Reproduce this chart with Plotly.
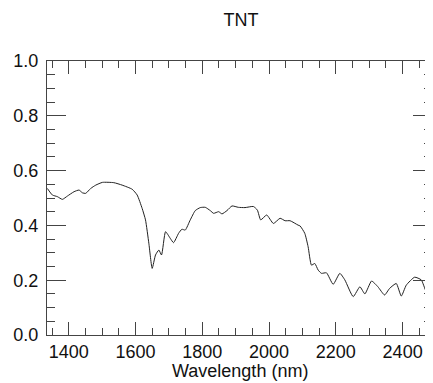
import plotly.graph_objects as go

wavelength = [1336, 1351, 1366, 1381, 1396, 1416, 1431, 1441, 1451, 1466, 1481, 1501, 1535,
              1560, 1590, 1605, 1620, 1630, 1640, 1650, 1660, 1670, 1678, 1690, 1704, 1714,
              1729, 1739, 1749, 1764, 1779, 1794, 1809, 1824, 1834, 1849, 1859, 1874, 1889,
              1908, 1928, 1953, 1965, 1975, 1993, 2013, 2033, 2048, 2063, 2087, 2093, 2107,
              2117, 2127, 2137, 2147, 2157, 2172, 2192, 2212, 2227, 2252, 2272, 2287, 2307,
              2326, 2346, 2361, 2381, 2396, 2411, 2436, 2456, 2471, 2489]
reflectance = [0.535, 0.511, 0.505, 0.495, 0.507, 0.523, 0.529, 0.519, 0.517, 0.535, 0.547,
               0.557, 0.556, 0.547, 0.532, 0.511, 0.462, 0.420, 0.335, 0.243, 0.292, 0.310,
               0.292, 0.377, 0.353, 0.337, 0.371, 0.386, 0.383, 0.420, 0.454, 0.465, 0.466,
               0.454, 0.444, 0.450, 0.442, 0.454, 0.471, 0.466, 0.465, 0.469, 0.456, 0.420,
               0.438, 0.407, 0.426, 0.417, 0.417, 0.401, 0.398, 0.371, 0.322, 0.255, 0.261,
               0.237, 0.225, 0.227, 0.185, 0.225, 0.201, 0.140, 0.176, 0.150, 0.197, 0.176,
               0.146, 0.170, 0.188, 0.142, 0.182, 0.211, 0.201, 0.158, 0.146]
title_text = "TNT"
x_title = "Wavelength (nm)"

axis_color = "#444444"
font = "Liberation Sans, Arial, sans-serif"

# The page body has an 8px margin, so the figure is drawn at (8, 8) in the window.
W, H = 425, 375
L, R, T, B = 39, 1, 53, 48
plot_h = H - T - B

fig = go.Figure(go.Scatter(x=wavelength, y=reflectance, mode="lines",
                           line=dict(color="#222222", width=1, shape="spline", smoothing=0.5),
                           hoverinfo="skip"))

fig.update_layout(
    width=W, height=H,
    margin=dict(l=L, r=R, t=T, b=B, autoexpand=False),
    paper_bgcolor="white", plot_bgcolor="white",
    showlegend=False,
    font=dict(family=font, size=18, color="#111111"),
    title=dict(text=title_text, x=233 / W, xanchor="center",
               y=1 - 12 / H, yanchor="middle", yref="container",
               font=dict(size=18, family=font, color="#111111"), automargin=False),
    annotations=[dict(text=x_title, xref="paper", yref="paper", x=0.5, y=-36 / plot_h,
                      xanchor="center", yanchor="middle", showarrow=False,
                      font=dict(size=18, family=font, color="#111111"))],
)
fig.update_xaxes(range=[1335, 2488], showgrid=False, zeroline=False, automargin=False,
                 showline=True, linecolor=axis_color, linewidth=1, mirror="ticks",
                 ticks="inside", ticklen=13, tickcolor=axis_color, tickwidth=1,
                 tick0=1400, dtick=200,
                 minor=dict(ticks="inside", ticklen=7, dtick=50, tick0=1400,
                            tickcolor=axis_color, showgrid=False),
                 tickfont=dict(size=18))
fig.update_yaxes(range=[0, 1.0], showgrid=False, zeroline=False, automargin=False,
                 showline=True, linecolor=axis_color, linewidth=1, mirror="ticks",
                 ticks="inside", ticklen=19, tickcolor=axis_color, tickwidth=1,
                 tick0=0, dtick=0.2, tickformat=".1f", ticklabelstandoff=4,
                 minor=dict(ticks="inside", ticklen=8, dtick=0.05, tick0=0,
                            tickcolor=axis_color, showgrid=False),
                 tickfont=dict(size=18))

fig.write_html("out.html")
